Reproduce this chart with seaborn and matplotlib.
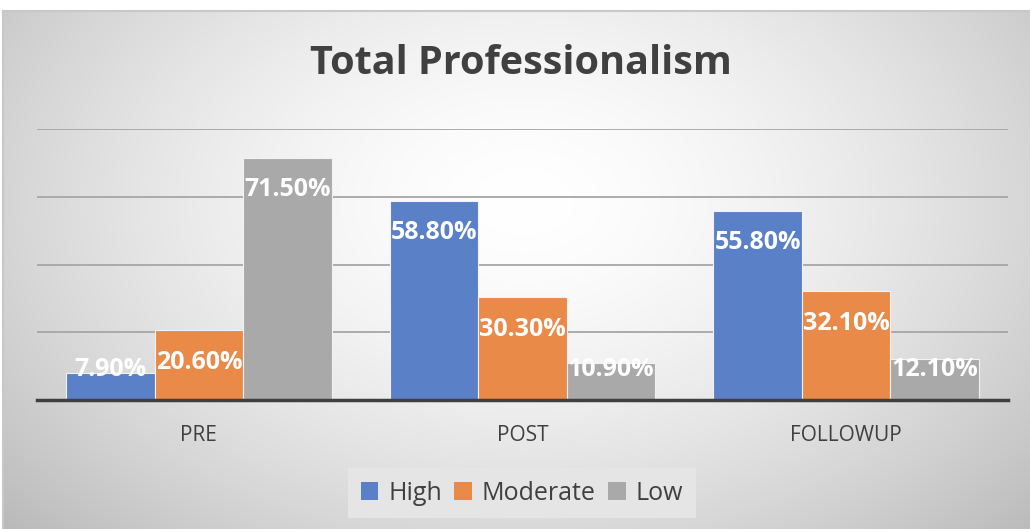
import numpy as np
import pandas as pd
import matplotlib
matplotlib.use("Agg")
import matplotlib.pyplot as plt
import seaborn as sns
from matplotlib.patches import Patch

categories = ["PRE", "POST", "FOLLOWUP"]
levels = ["High", "Moderate", "Low"]
high = [7.9, 58.8, 55.8]
moderate = [20.6, 30.3, 32.1]
low = [71.5, 10.9, 12.1]
yticks = [0, 20, 40, 60, 80]

colors = {"High": "#5A80C8", "Moderate": "#EA8A48", "Low": "#A9A9A9"}

df = pd.DataFrame({
    "stage": categories * 3,
    "level": ["High"] * 3 + ["Moderate"] * 3 + ["Low"] * 3,
    "value": high + moderate + low,
})

sns.set_theme(style="white")
plt.rcParams["font.family"] = ["Open Sans", "DejaVu Sans"]

W, H = 1030, 529
fig = plt.figure(figsize=(W / 100, H / 100), dpi=100)
fig.patch.set_facecolor("white")

# background gradient panel
bg = fig.add_axes([3 / W, 0, 1 - 3 / W, (H - 11) / H])
yy, xx = np.mgrid[0:518, 0:1027]
cx, cy = 520, 190
r = np.sqrt(((xx - cx) / 620.0) ** 2 + ((yy - cy) / 420.0) ** 2)
val = 1.0 - 0.22 * np.clip(r, 0, 1.3) ** 1.6
img = np.dstack([val, val, val])
bg.imshow(img, aspect="auto", extent=[0, 1, 0, 1], origin="upper")
bg.set_xlim(0, 1); bg.set_ylim(0, 1)
bg.axis("off")
fig.add_artist(plt.Line2D([3 / W, 1], [1 - 11 / H, 1 - 11 / H], color="#c8c8c8", lw=1.5, transform=fig.transFigure))
fig.add_artist(plt.Line2D([3 / W, 3 / W], [0, 1 - 11 / H], color="#c8c8c8", lw=1.5, transform=fig.transFigure))

ax = fig.add_axes([37 / W, (H - 400) / H, (1008 - 37) / W, (400 - 129) / H])
ax.patch.set_alpha(0)
sns.barplot(data=df, x="stage", y="value", hue="level", order=categories,
            hue_order=levels, palette=colors, width=0.82, ax=ax, saturation=1,
            edgecolor="#f2f2f2", linewidth=0.8, legend=False, zorder=3)

ax.set_ylim(0, 80)
ax.set_xlim(-0.5, 2.5)
ax.set_yticks(yticks)
ax.yaxis.grid(True, color="#a6a6a6", lw=1.3, zorder=0)
ax.set_axisbelow(True)
ax.tick_params(axis="y", left=False, labelleft=False)
ax.tick_params(axis="x", bottom=False, labelsize=15, labelcolor="#404040", pad=12)
for s in ["top", "right", "left"]:
    ax.spines[s].set_visible(False)
ax.spines["bottom"].set_color("#3f3f3f")
ax.spines["bottom"].set_linewidth(2.5)
ax.spines["bottom"].set_zorder(4)
ax.set_xlabel("")
ax.set_ylabel("")

px_per_unit = (400 - 129) / 80.0
for cont in ax.containers:
    for bar in cont:
        v = bar.get_height()
        y = max(v - 32 / px_per_unit, 30 / px_per_unit)
        ax.text(bar.get_x() + bar.get_width() / 2, y, f"{v:.2f}%",
                ha="center", va="center", color="white", fontsize=18,
                fontweight="bold", zorder=5)

fig.text(521 / W, 1 - 63 / H, "Total Professionalism", ha="center", va="center",
         fontsize=28.5, fontweight="bold", color="#404040")

handles = [Patch(facecolor=colors[l], edgecolor="none", label=l) for l in levels]
leg = fig.legend(handles=handles, loc="center", bbox_to_anchor=(522 / W, 1 - 493 / H),
                 ncol=3, frameon=True, fontsize=18, handlelength=0.7, handleheight=0.7,
                 handletextpad=0.4, columnspacing=0.5, borderpad=0.3)
leg.get_frame().set_facecolor("#e5e5e5")
leg.get_frame().set_edgecolor("none")
leg.get_frame().set_alpha(1)
leg.get_frame().set_boxstyle("square", pad=0.2)
for t in leg.get_texts():
    t.set_color("#404040")

fig.savefig("out.png", dpi=100)
